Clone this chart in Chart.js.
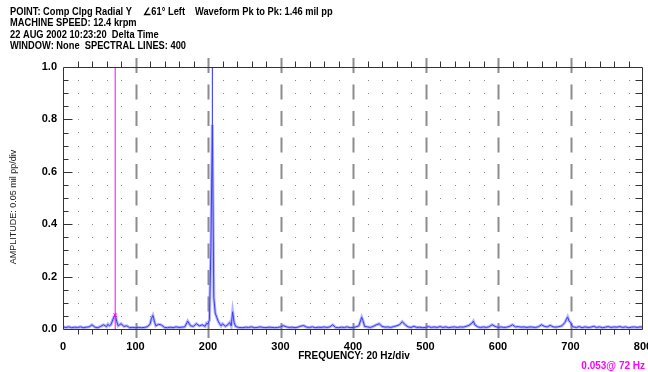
<!DOCTYPE html>
<html>
<head>
<meta charset="utf-8">
<script src="https://cdn.jsdelivr.net/npm/chart.js@4/dist/chart.umd.min.js"></script>
<style>
html,body{margin:0;padding:0;background:#fff;}
#c{display:block;}
</style>
</head>
<body>
<canvas id="c" width="648" height="372"></canvas>
<script>
// ---- data ----
const freqs = [0,4,8,12,16,20,24,28,32,36,40,44,48,52,56,60,62,64,66,68,70,72,74,76,80,84,88,92,96,100,
104,108,112,116,120,122,124,126,128,132,136,140,144,148,152,156,160,164,168,172,176,180,184,188,192,196,198,200,
202,204,206,208,210,212,214,216,218,220,224,228,230,232,234,236,238,242,
248,252,256,260,264,268,272,276,280,284,288,292,296,300,304,308,312,316,320,324,328,332,336,340,344,348,352,356,360,364,368,372,376,380,384,388,392,396,
400,404,408,412,414,416,420,424,428,432,436,440,444,448,452,456,460,464,468,472,476,480,484,488,492,496,
500,504,508,512,516,520,524,528,532,536,540,544,548,552,556,560,564,566,568,572,576,580,584,588,592,596,
600,604,608,612,616,620,624,628,632,636,640,644,648,652,656,660,664,668,672,676,680,684,688,692,696,698,700,702,704,708,712,716,720,724,728,732,736,740,744,748,752,756,760,764,768,772,776,780,784,788,792,796,800];
const amps = [0.008,0.006,0.008,0.005,0.007,0.006,0.008,0.005,0.007,0.008,0.016,0.007,0.005,0.010,0.016,0.009,0.018,0.012,0.016,0.030,0.045,0.053,0.030,0.012,0.020,0.010,0.012,0.005,0.006,0.005,
0.006,0.005,0.006,0.008,0.018,0.040,0.052,0.030,0.012,0.018,0.015,0.006,0.005,0.007,0.005,0.008,0.006,0.007,0.008,0.030,0.012,0.010,0.020,0.012,0.016,0.010,0.022,0.020,
0.035,0.310,0.780,0.120,0.060,0.045,0.030,0.020,0.012,0.020,0.010,0.018,0.025,0.012,0.066,0.025,0.010,0.006,
0.005,0.007,0.006,0.008,0.005,0.006,0.008,0.006,0.005,0.007,0.006,0.005,0.006,0.008,0.013,0.008,0.006,0.007,0.005,0.007,0.011,0.013,0.007,0.006,0.008,0.005,0.007,0.006,0.008,0.006,0.008,0.016,0.006,0.005,0.007,0.006,0.008,0.005,
0.006,0.008,0.012,0.045,0.030,0.010,0.008,0.006,0.010,0.016,0.020,0.010,0.007,0.008,0.006,0.009,0.012,0.016,0.028,0.016,0.008,0.006,0.010,0.006,0.007,0.005,
0.006,0.009,0.006,0.008,0.006,0.009,0.006,0.008,0.005,0.007,0.008,0.006,0.008,0.007,0.010,0.014,0.022,0.030,0.016,0.008,0.006,0.008,0.006,0.009,0.016,0.010,
0.006,0.008,0.006,0.007,0.010,0.016,0.008,0.009,0.007,0.008,0.006,0.008,0.007,0.006,0.009,0.016,0.010,0.008,0.014,0.008,0.007,0.009,0.012,0.024,0.046,0.030,0.026,0.012,0.008,0.006,0.009,0.005,0.008,0.006,0.007,0.010,0.006,0.008,0.005,0.007,0.009,0.006,0.008,0.007,0.009,0.006,0.008,0.005,0.007,0.008,0.006,0.008,0.007];
const xTickLabels = [0,100,200,300,400,500,600,700,800];
const yTickLabels = [0.0,0.2,0.4,0.6,0.8,1.0];
const cursorHz = 72, cursorAmp = 0.053;
const refHz = 206, refAmp = 0.78;
const headerLines = [
  ["POINT: Comp Clpg Radial Y", "\u222061\u00b0 Left", "Waveform Pk to Pk: 1.46 mil pp"],
  ["MACHINE SPEED: 12.4 krpm"],
  ["22 AUG 2002 10:23:20  Delta Time"],
  ["WINDOW: None  SPECTRAL LINES: 400"]
];
const xTitle = "FREQUENCY: 20 Hz/div";
const yTitle = "AMPLITUDE: 0.05 mil pp/div";
const cursorLabel = "0.053@ 72 Hz";

const spectrum = freqs.map((f,i)=>({x:f,y:amps[i]}));
const FONT = '"Liberation Sans", Arial, sans-serif';

function narrowText(ctx, txt, x, y, sx){
  ctx.save();
  ctx.translate(x, y);
  ctx.scale(sx, 1);
  ctx.fillText(txt, 0, 0);
  ctx.restore();
}

const decor = {
  id:'decor',
  beforeDatasetsDraw(chart){
    const {ctx, scales:{x,y}, chartArea:a} = chart;
    ctx.save();
    ctx.fillStyle = '#8a8a8a';
    for(let f=20; f<800; f+=20){
      if(f%100===0) continue;
      const px = Math.round(x.getPixelForValue(f));
      for(let v=0.05; v<1.001; v+=0.05){
        const py = Math.round(y.getPixelForValue(v));
        ctx.fillRect(px,py,1,1);
      }
    }
    ctx.strokeStyle = '#8c8c8c';
    ctx.lineWidth = 2;
    ctx.setLineDash([15,11.5]);
    for(let f=100; f<800; f+=100){
      const px = Math.round(x.getPixelForValue(f))+0.5;
      ctx.beginPath();
      ctx.moveTo(px, a.bottom+9);
      ctx.lineTo(px, a.top-10);
      ctx.stroke();
    }
    ctx.setLineDash([]);
    ctx.restore();
  },
  afterDatasetsDraw(chart){
    const {ctx, scales:{x,y}, chartArea:a} = chart;
    ctx.save();
    ctx.strokeStyle = '#333';
    ctx.lineWidth = 1;
    const L = Math.round(a.left)+0.5, R = Math.round(a.right)-0.5, T = Math.round(a.top)+0.5, B = Math.round(a.bottom)+0.5;
    ctx.beginPath();
    ctx.moveTo(L,T); ctx.lineTo(R,T); ctx.lineTo(R,B); ctx.lineTo(L,B); ctx.closePath();
    ctx.stroke();
    ctx.beginPath();
    for(let f=20; f<800; f+=20){
      if(f%100===0) continue;
      const px = Math.round(x.getPixelForValue(f))+0.5;
      ctx.moveTo(px,T); ctx.lineTo(px,T-6);
      ctx.moveTo(px,B); ctx.lineTo(px,B+5);
    }
    for(let k=1;k<20;k++){
      const v=k*0.05;
      const py = Math.round(y.getPixelForValue(v))+0.5;
      const len = (k%4===0)?9:5;
      ctx.moveTo(L,py); ctx.lineTo(L+len,py);
      ctx.moveTo(R,py); ctx.lineTo(R-7,py);
    }
    ctx.stroke();
    ctx.fillStyle = '#000';
    ctx.font = 'bold 10px '+FONT;
    ctx.textBaseline = 'middle';
    ctx.textAlign = 'left';
    const ly = [12,23.5,35,46.5];
    const sx = 0.93;
    narrowText(ctx, headerLines[0][0], 10, ly[0], sx);
    narrowText(ctx, headerLines[0][1], 143, ly[0], sx);
    narrowText(ctx, headerLines[0][2], 195, ly[0], sx);
    for(let i=1;i<4;i++) narrowText(ctx, headerLines[i][0], 10, ly[i], sx);
    ctx.textAlign = 'center';
    ctx.fillText(xTitle, 354, 356);
    ctx.save();
    ctx.translate(14, 207);
    ctx.rotate(-Math.PI/2);
    ctx.font = '9px '+FONT;
    ctx.fillStyle = '#222';
    ctx.fillText(yTitle, 0, 0);
    ctx.restore();
    ctx.fillStyle = '#ff00ff';
    ctx.textAlign = 'right';
    ctx.fillText(cursorLabel, 645, 366);
    ctx.restore();
  }
};

new Chart(document.getElementById('c'), {
  type:'line',
  data:{
    datasets:[
      {data:spectrum, borderColor:'rgba(120,120,255,0.55)', borderWidth:3, pointRadius:0, tension:0, order:3},
      {data:spectrum, borderColor:'#3a3aff', borderWidth:1, pointRadius:0, tension:0, order:2},
      {data:[{x:cursorHz,y:0},{x:cursorHz,y:1}], borderColor:'#ff00ff', borderWidth:1, pointRadius:0, order:1},
      {data:[{x:cursorHz,y:cursorAmp}], borderColor:'#ff00ff', backgroundColor:'#ff00ff', showLine:false, pointStyle:'crossRot', pointRadius:2.5, borderWidth:1, order:0},
      {data:[{x:refHz,y:refAmp},{x:refHz,y:1}], borderColor:'#2a2aff', borderWidth:1, pointRadius:0, order:1}
    ]
  },
  options:{
    responsive:false, devicePixelRatio:1, animation:false,
    layout:{padding:{top:67,right:3,left:0,bottom:0}},
    plugins:{legend:{display:false}, tooltip:{enabled:false}},
    scales:{
      x:{type:'linear', min:0, max:800,
        afterBuildTicks(s){ s.ticks = xTickLabels.map(v=>({value:v})); },
        afterFit(s){ s.height = 43; s.paddingRight = 0; s.paddingLeft = 0; },
        grid:{display:false, drawTicks:false}, border:{display:false},
        ticks:{padding:11, maxRotation:0, autoSkip:false, color:'#000', font:{family:FONT, size:11, weight:'bold'}}
      },
      y:{type:'linear', min:0, max:1,
        afterBuildTicks(s){ s.ticks = yTickLabels.map(v=>({value:v})); },
        afterFit(s){ s.width = 63; s.paddingTop = 0; s.paddingBottom = 0; },
        grid:{display:false, drawTicks:false}, border:{display:false},
        ticks:{padding:6, color:'#000', callback:v=>Number(v).toFixed(1), font:{family:FONT, size:11, weight:'bold'}}
      }
    }
  },
  plugins:[decor]
});
</script>
</body>
</html>
